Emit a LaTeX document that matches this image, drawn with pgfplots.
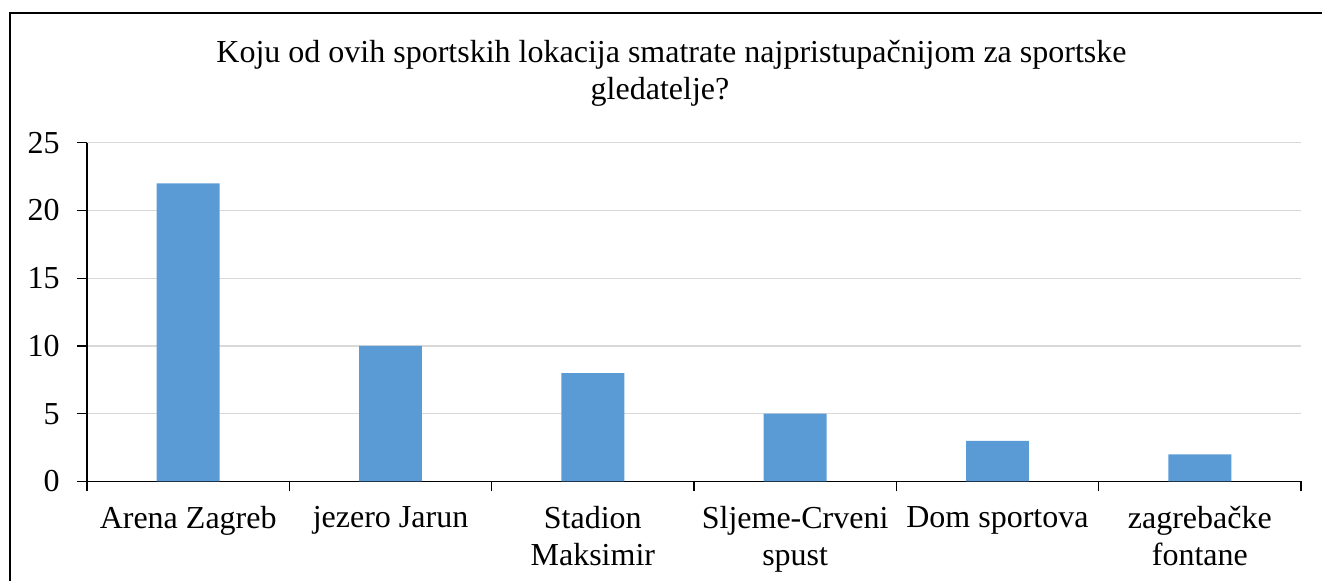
\documentclass[border=0pt]{standalone}
\usepackage{pgfplots}
\pgfplotsset{compat=1.18}
\usepackage{fontspec}
\setmainfont{Liberation Serif}
\definecolor{barblue}{HTML}{5B9BD5}
\definecolor{gridgray}{HTML}{D9D9D9}
\begin{document}
\begin{tikzpicture}
\useasboundingbox (0,0) rectangle (495.75pt,217.875pt);
\clip (0,0) rectangle (495.75pt,217.875pt);
\draw[line width=0.8pt] (3.75pt,-10pt) rectangle (510pt,213pt);
\node[anchor=base, font=\fontsize{12}{14}\selectfont] at (251.8pt,194.25pt) {Koju od ovih sportskih lokacija smatrate najpristupačnijom za sportske};
\node[anchor=base, font=\fontsize{12}{14}\selectfont] at (247.5pt,180.4pt) {gledatelje?};
\begin{axis}[
  at={(32.625pt,37.3125pt)}, anchor=south west,
  scale only axis,
  width=455.25pt, height=127.05pt,
  xmin=-0.5, xmax=5.5, ymin=0, ymax=25,
  axis x line*=bottom, axis y line*=left,
  axis line style={line width=0.5pt, -},
  xtick={-0.5,0.5,1.5,2.5,3.5,4.5,5.5},
  x tick label as interval,
  xticklabels={Arena Zagreb, jezero Jarun, Stadion\\Maksimir, Sljeme-Crveni\\spust, Dom sportova, zagrebačke\\fontane},
  xticklabel style={align=center, font=\fontsize{12}{13.9}\selectfont, anchor=north, yshift=-2pt},
  ytick={0,5,...,25},
  yticklabel style={font=\fontsize{12}{14}\selectfont, xshift=-3pt},
  /pgf/number format/assume math mode=true,
  tick align=outside,
  major tick length=3.75pt,
  tick style={line width=0.5pt, black},
  ymajorgrids, xmajorgrids=false,
  grid style={line width=0.45pt, gridgray},
]
\addplot[ybar, bar width=23.6pt, fill=barblue, draw=none] coordinates {(0,22) (1,10) (2,8) (3,5) (4,3) (5,2)};
\end{axis}
\end{tikzpicture}
\end{document}
